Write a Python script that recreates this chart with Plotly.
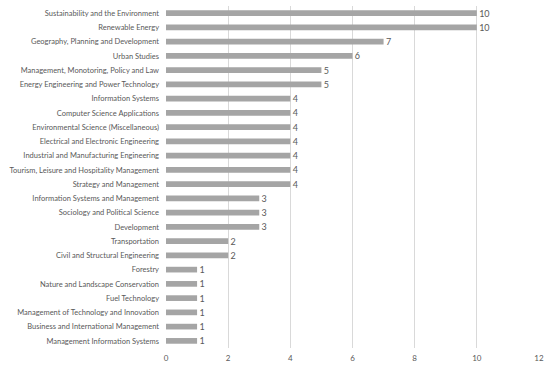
import plotly.graph_objects as go

categories = [
    "Sustainability and the Environment",
    "Renewable Energy",
    "Geography, Planning and Development",
    "Urban Studies",
    "Management, Monotoring, Policy and Law",
    "Energy Engineering and Power Technology",
    "Information Systems",
    "Computer Science Applications",
    "Environmental Science (Miscellaneous)",
    "Electrical and Electronic Engineering",
    "Industrial and Manufacturing Engineering",
    "Tourism, Leisure and Hospitality Management",
    "Strategy and Management",
    "Information Systems and Management",
    "Sociology and Political Science",
    "Development",
    "Transportation",
    "Civil and Structural Engineering",
    "Forestry",
    "Nature and Landscape Conservation",
    "Fuel Technology",
    "Management of Technology and Innovation",
    "Business and International Management",
    "Management Information Systems",
]
values = [10, 10, 7, 6, 5, 5, 4, 4, 4, 4, 4, 4, 4, 3, 3, 3, 2, 2, 1, 1, 1, 1, 1, 1]
x_ticks = [0, 2, 4, 6, 8, 10, 12]

FONT = "Lato"
GREY = "#595959"

fig = go.Figure(go.Bar(
    x=values,
    y=categories,
    orientation="h",
    marker=dict(color="#a5a5a5", line=dict(width=0)),
    text=["\u00a0" + str(v) for v in values],
    textposition="outside",
    constraintext="none",
    textfont=dict(family=FONT, size=9, color=GREY),
    cliponaxis=False,
))

fig.update_layout(
    width=550, height=370,
    margin=dict(l=166, r=11, t=6, b=22, autoexpand=False),
    paper_bgcolor="white", plot_bgcolor="white",
    bargap=0.6,
    showlegend=False,
    font=dict(family=FONT, size=7.5, color=GREY),
)
fig.update_xaxes(
    range=[0, 12], tickvals=x_ticks, showgrid=True, gridcolor="#d9d9d9", gridwidth=1,
    zeroline=False, showline=False, ticks="", automargin=False, ticklabelstandoff=4,
    tickfont=dict(family=FONT, size=8, color=GREY),
)
fig.update_yaxes(
    autorange="reversed", showgrid=False, zeroline=False, showline=False, ticks="",
    automargin=False, ticklabelstandoff=6,
    tickfont=dict(family=FONT, size=7.5, color=GREY),
)

fig.write_html(
    "out.html",
    config={"displayModeBar": False},
    post_script="document.body.style.margin='0';document.body.style.overflow='hidden';",
)
